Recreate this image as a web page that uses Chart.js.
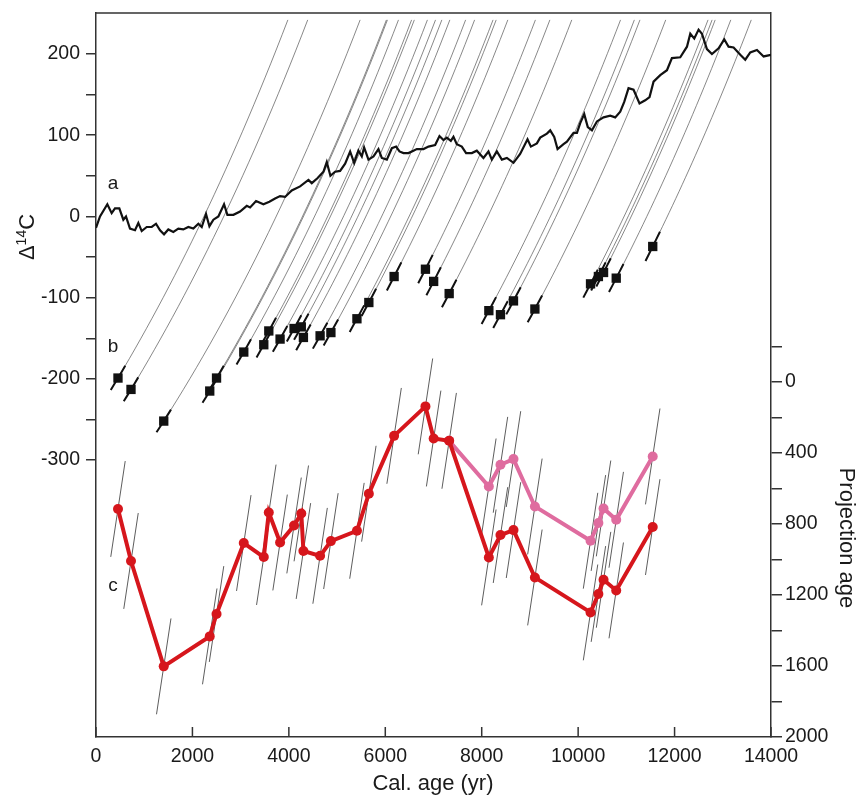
<!DOCTYPE html>
<html lang="en">
<head>
<meta charset="UTF-8">
<title>Projection age</title>
<script src="https://cdn.jsdelivr.net/npm/chart.js"></script>
<style>
    body { margin: 0; background: #fff; }
    #chart { display: block; }
</style>
</head>
<body>
<canvas id="chart" width="860" height="796"></canvas>
<script>
// (a) atmospheric D14C record
const curveAge = [0, 83, 235, 325, 394, 484, 567, 622, 705, 809, 878, 948, 1052, 1156, 1245, 1328, 1411, 1500, 1604, 1708,
    1811, 1915, 2019, 2123, 2193, 2282, 2352, 2435, 2538, 2656, 2725, 2850, 2988, 3127, 3196, 3320, 3472, 3596, 3714, 3818,
    3922, 4060, 4233, 4406, 4475, 4592, 4717, 4786, 4862, 4959, 5063, 5167, 5271, 5354, 5443, 5513, 5561, 5651, 5755, 5858,
    5928, 6032, 6136, 6225, 6294, 6377, 6481, 6584, 6654, 6792, 6896, 7034, 7124, 7207, 7276, 7359, 7414, 7483, 7587, 7676,
    7795, 7898, 8036, 8140, 8210, 8314, 8418, 8522, 8659, 8797, 8950, 9020, 9144, 9213, 9352, 9421, 9504, 9573, 9697, 9767,
    9905, 9975, 10043, 10126, 10200, 10286, 10390, 10527, 10665, 10769, 10873, 10956, 11045, 11149, 11273, 11391, 11481, 11564, 11703, 11842,
    11945, 12118, 12257, 12326, 12409, 12498, 12568, 12671, 12775, 12913, 13031, 13120, 13224, 13363, 13466, 13570, 13709, 13847, 14000];
const curveD14C = [-14, 0, 15, 4, 10, 10, -4, 0, -15, -17, -8, -18, -13, -13, -9, -17, -22, -16, -19, -15,
    -16, -13, -15, -9, -13, 3, -12, -4, 0, 15, 2, 2, 6, 13, 11, 19, 15, 18, 22, 25,
    24, 32, 37, 45, 41, 47, 55, 67, 50, 55, 56, 65, 80, 66, 81, 74, 85, 70, 74, 83,
    72, 70, 84, 86, 80, 78, 78, 81, 83, 83, 86, 88, 99, 94, 97, 93, 98, 89, 86, 78,
    78, 81, 72, 80, 70, 80, 70, 72, 66, 77, 95, 86, 90, 97, 102, 106, 98, 83, 89, 92,
    103, 103, 115, 126, 110, 106, 117, 122, 124, 122, 129, 141, 158, 156, 139, 143, 147, 166, 174, 180,
    195, 196, 209, 225, 219, 230, 225, 206, 200, 207, 218, 209, 208, 199, 193, 202, 205, 197, 199];

// (b) samples and (c) projection ages
const sampleAge = [456, 726, 1405, 2359, 2500, 3065, 3480, 3584, 3818, 4108, 4258, 4302, 4648, 4872, 5412,
    5659, 6183, 6833, 7003, 7325, 8148, 8389, 8659, 9103, 10257, 10420, 10527, 10790, 11547];
const sampleD14C = [-199, -213, -252, -215, -199, -167, -158, -141, -151, -138, -136, -149, -147, -143, -126,
    -106, -74, -65, -80, -95, -116, -121, -104, -114, -83, -74, -69, -76, -37];
const projAge = [715, 1008, 1602, 1433, 1307, 907, 986, 735, 904, 808, 740, 952, 979, 896, 838,
    629, 303, 137, 318, 331, 988, 862, 834, 1101, 1298, 1194, 1114, 1174, 817];
const pinkAge = [7325, 8148, 8389, 8659, 9103, 10257, 10420, 10527, 10790, 11547];
const pinkProj = [331, 588, 466, 434, 701, 894, 794, 712, 776, 419];

const xTicks = [0, 2000, 4000, 6000, 8000, 10000, 12000, 14000];
const leftTicks = [200, 150, 100, 50, 0, -50, -100, -150, -200, -250, -300];
const rightTicks = [-200, 0, 200, 400, 600, 800, 1000, 1200, 1400, 1600, 1800, 2000];

const MEAN_LIFE = 8033;   // decay trajectory of a fixed 14C content
const D14C_END = 242;
const AGE_ERR = 150;
const PROJ_ERR = 270;

const FONT = '"Liberation Sans", Arial, sans-serif';
const INK = '#1a1a1a';
const RED = '#d6161c';
const PINK = '#df6c9f';

function decay(age0, d0, age) {
    return (1000 + d0) * Math.exp((age - age0) / MEAN_LIFE) - 1000;
}

// thin trajectories + thick error segments
const trajPts = [];
const segPts = [];
sampleAge.forEach((a0, i) => {
    const d0 = sampleD14C[i];
    const aEnd = a0 + MEAN_LIFE * Math.log((1000 + D14C_END) / (1000 + d0));
    for (let k = 0; k <= 30; k++) {
        const a = a0 + (aEnd - a0) * k / 30;
        trajPts.push({x: a, y: decay(a0, d0, a)});
    }
    trajPts.push({x: aEnd, y: null});
    for (let k = 0; k <= 4; k++) {
        const a = a0 - AGE_ERR + 2 * AGE_ERR * k / 4;
        segPts.push({x: a, y: decay(a0, d0, a)});
    }
    segPts.push({x: a0, y: null});
});

// slanted error lines in (c)
const errPts = [];
function addErr(ages, projs) {
    ages.forEach((a, i) => {
        errPts.push({x: a - AGE_ERR, y: projs[i] + PROJ_ERR});
        errPts.push({x: a + AGE_ERR, y: projs[i] - PROJ_ERR});
        errPts.push({x: a, y: null});
    });
}
addErr(sampleAge, projAge);
addErr(pinkAge.slice(1), pinkProj.slice(1));

const decor = {
    id: 'decor',
    afterDraw(chart) {
        const {ctx, chartArea: a, scales} = chart;
        ctx.save();
        ctx.strokeStyle = '#333';
        ctx.lineWidth = 1.5;
        ctx.beginPath();
        ctx.moveTo(a.left, a.top);
        ctx.lineTo(a.right, a.top);
        scales.x.ticks.forEach(t => {
            const px = scales.x.getPixelForValue(t.value);
            ctx.moveTo(px, a.bottom);
            ctx.lineTo(px, a.bottom - 10);
        });
        ctx.stroke();

        ctx.fillStyle = INK;
        ctx.font = '19px ' + FONT;
        ctx.textAlign = 'center';
        ctx.textBaseline = 'alphabetic';
        ctx.fillText('a', 113, 189);
        ctx.fillText('b', 113, 352);
        ctx.fillText('c', 113, 591);

        ctx.font = '22px ' + FONT;
        ctx.textBaseline = 'middle';
        ctx.fillText('Cal. age (yr)', 433, 784);

        ctx.save();
        ctx.translate(846, 538);
        ctx.rotate(Math.PI / 2);
        ctx.fillText('Projection age', 0, 0);
        ctx.restore();

        // Δ14C with superscript
        ctx.save();
        ctx.translate(26, 237);
        ctx.rotate(-Math.PI / 2);
        ctx.textAlign = 'left';
        ctx.textBaseline = 'alphabetic';
        const big = '22px ' + FONT, small = '14px ' + FONT;
        ctx.font = big;
        const wD = ctx.measureText('Δ').width, wC = ctx.measureText('C').width;
        ctx.font = small;
        const w14 = ctx.measureText('14').width;
        let x0 = -(wD + w14 + wC) / 2;
        ctx.font = big;
        ctx.fillText('Δ', x0, 8);
        ctx.font = small;
        ctx.fillText('14', x0 + wD, 0);
        ctx.font = big;
        ctx.fillText('C', x0 + wD + w14, 8);
        ctx.restore();
        ctx.restore();
    }
};

const tickFont = {family: FONT, size: 19.5};

function fixBox(w, h) {
    return s => {
        if (w !== null) s.width = w;
        if (h !== null) s.height = h;
        s.paddingTop = 0;
        s.paddingBottom = 0;
        s.paddingLeft = 0;
        s.paddingRight = 0;
    };
}

new Chart(document.getElementById('chart').getContext('2d'), {
    type: 'line',
    data: {
        datasets: [
            {
                data: trajPts, yAxisID: 'y', borderColor: '#555', borderWidth: 0.7,
                pointRadius: 0, spanGaps: false, order: 10
            },
            {
                data: errPts, yAxisID: 'y2', borderColor: '#333', borderWidth: 0.8,
                pointRadius: 0, spanGaps: false, order: 9
            },
            {
                data: curveAge.map((a, i) => ({x: a, y: curveD14C[i]})), yAxisID: 'y',
                borderColor: '#111', borderWidth: 2.2, pointRadius: 0, order: 6
            },
            {
                data: segPts, yAxisID: 'y', borderColor: '#111', borderWidth: 2,
                pointRadius: 0, spanGaps: false, order: 5
            },
            {
                data: sampleAge.map((a, i) => ({x: a, y: sampleD14C[i]})), yAxisID: 'y',
                showLine: false, pointStyle: 'rect', pointRadius: 6.6, pointBorderWidth: 0,
                pointBackgroundColor: '#111', order: 4
            },
            {
                data: pinkAge.map((a, i) => ({x: a, y: pinkProj[i]})), yAxisID: 'y2',
                borderColor: PINK, borderWidth: 4, pointRadius: 5, pointBackgroundColor: PINK,
                pointBorderWidth: 0, order: 3
            },
            {
                data: sampleAge.map((a, i) => ({x: a, y: projAge[i]})), yAxisID: 'y2',
                borderColor: RED, borderWidth: 4, pointRadius: 5, pointBackgroundColor: RED,
                pointBorderWidth: 0, order: 2
            }
        ]
    },
    options: {
        responsive: false,
        animation: false,
        devicePixelRatio: 1,
        layout: {padding: {top: 13, left: 0, right: 0, bottom: 0}},
        plugins: {legend: {display: false}, tooltip: {enabled: false}},
        scales: {
            x: {
                type: 'linear', min: 0, max: 14000,
                afterFit: fixBox(null, 59),
                afterBuildTicks: s => { s.ticks = xTicks.map(v => ({value: v})); },
                grid: {drawOnChartArea: false, drawTicks: false},
                border: {color: '#333', width: 1.5},
                ticks: {padding: 8, color: INK, font: tickFont, maxRotation: 0, autoSkip: false, callback: v => String(v)}
            },
            y: {
                position: 'left', min: -641, max: 250.5,
                afterFit: fixBox(96, null),
                afterBuildTicks: s => { s.ticks = leftTicks.map(v => ({value: v})); },
                grid: {drawOnChartArea: false, drawTicks: true, tickLength: 10, color: '#333', lineWidth: 1.5},
                border: {color: '#333', width: 1.5},
                ticks: {padding: 6, color: INK, font: tickFont, autoSkip: false, callback: v => (v % 100 === 0 ? String(v) : '')}
            },
            y2: {
                position: 'right', reverse: true, min: -2080, max: 2000,
                afterFit: fixBox(89, null),
                afterBuildTicks: s => { s.ticks = rightTicks.map(v => ({value: v})); },
                grid: {drawOnChartArea: false, drawTicks: true, tickLength: 11, color: '#333', lineWidth: 1.5},
                border: {color: '#333', width: 1.5},
                ticks: {padding: 3, color: INK, font: tickFont, autoSkip: false, callback: v => (v >= 0 && v % 400 === 0 ? String(v) : '')}
            }
        }
    },
    plugins: [decor]
});
</script>
</body>
</html>
